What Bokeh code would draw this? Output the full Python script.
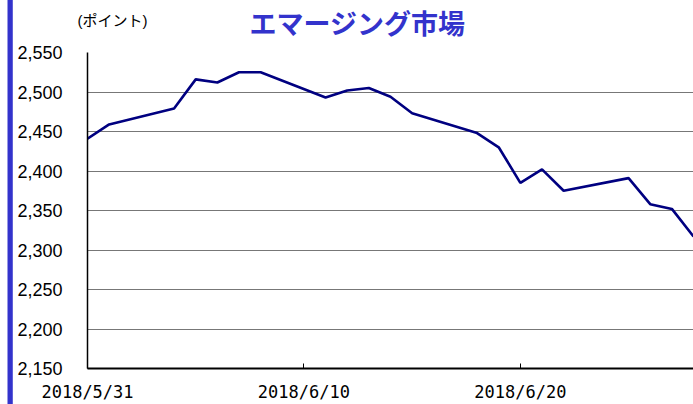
from datetime import datetime
from bokeh.plotting import figure
from bokeh.models import (ColumnDataSource, FixedTicker, NumeralTickFormatter,
                          DatetimeTickFormatter, Label, Range1d)
from bokeh.embed import file_html
from bokeh.resources import INLINE

# ---- data ----
dates = ["2018-05-31", "2018-06-01", "2018-06-04", "2018-06-05", "2018-06-06",
         "2018-06-07", "2018-06-08", "2018-06-11", "2018-06-12", "2018-06-13",
         "2018-06-14", "2018-06-15", "2018-06-18", "2018-06-19", "2018-06-20",
         "2018-06-21", "2018-06-22", "2018-06-25", "2018-06-26", "2018-06-27",
         "2018-06-28"]
values = [2441, 2459, 2479, 2516, 2512, 2525, 2525, 2493, 2502, 2505,
          2494, 2473, 2448, 2430, 2385, 2402, 2375, 2391, 2358, 2352, 2317]
x_tick_dates = ["2018-05-31", "2018-06-10", "2018-06-20"]
y_ticks = [2150, 2200, 2250, 2300, 2350, 2400, 2450, 2500, 2550]
title_text = "エマージング市場"
unit_text = "(ポイント)"

def ms(s):
    return datetime.strptime(s, "%Y-%m-%d").timestamp() * 1000.0

xs = [datetime.strptime(d, "%Y-%m-%d") for d in dates]
src = ColumnDataSource(dict(x=xs, y=values))

p = figure(width=693, height=404, output_backend="svg", toolbar_location=None,
           x_axis_type="datetime",
           x_range=Range1d(ms(dates[0]), ms(dates[-1])),
           y_range=Range1d(y_ticks[0], y_ticks[-1]),
           min_border_left=87, min_border_right=0, min_border_top=52,
           min_border_bottom=35)
p.outline_line_color = None
p.background_fill_color = "white"
p.border_fill_color = "white"

p.line("x", "y", source=src, line_color="#000080", line_width=2.6)

# grid
p.xgrid.grid_line_color = None
p.ygrid.ticker = FixedTicker(ticks=y_ticks)
p.ygrid.grid_line_color = "#777777"
p.ygrid.grid_line_width = 1.2

# y axis
p.yaxis.ticker = FixedTicker(ticks=y_ticks)
p.yaxis.formatter = NumeralTickFormatter(format="0,0")
p.yaxis.axis_line_color = "black"
p.yaxis.axis_line_width = 1.5
p.yaxis.major_tick_line_color = None
p.yaxis.minor_tick_line_color = None
p.yaxis.major_label_standoff = 19
p.yaxis.major_label_text_font = "Liberation Sans"
p.yaxis.major_label_text_font_size = "18px"
p.yaxis.major_label_text_color = "black"

# x axis
p.xaxis.ticker = FixedTicker(ticks=[ms(d) for d in x_tick_dates])
p.xaxis.formatter = DatetimeTickFormatter(days="%Y/%-m/%-d", months="%Y/%-m/%-d")
p.xaxis.axis_line_color = "black"
p.xaxis.axis_line_width = 2
p.xaxis.major_tick_in = 5
p.xaxis.major_tick_out = 0
p.xaxis.major_tick_line_color = "black"
p.xaxis.minor_tick_line_color = None
p.xaxis.major_label_standoff = 13
p.xaxis.major_label_text_font = "DejaVu Sans Mono"
p.xaxis.major_label_text_font_size = "17px"
p.xaxis.major_label_text_color = "black"

# left blue bar (a padded, filled label in the left panel)
p.add_layout(Label(x=-2, y=369, x_units="screen", y_units="screen",
                   text=" ", text_font_size="1px", text_baseline="top",
                   text_align="left",
                   background_fill_color="#3333cc", background_fill_alpha=1.0,
                   padding=dict(left=2, right=3, top=0, bottom=404)), "left")

# texts (top panel)
p.add_layout(Label(x=162, y=28, x_units="screen", y_units="screen",
                   text=title_text,
                   text_font="Liberation Sans, Noto Sans CJK JP",
                   text_font_style="bold", text_font_size="27px",
                   text_color="#3333cc", text_baseline="alphabetic"), "above")
p.add_layout(Label(x=-10, y=2, x_units="screen", y_units="screen",
                   text=unit_text,
                   text_font="Liberation Sans, Noto Sans CJK JP",
                   text_font_size="15px", text_color="black",
                   text_baseline="alphabetic"), "above")

open("out.html", "w").write(file_html(p, INLINE))
